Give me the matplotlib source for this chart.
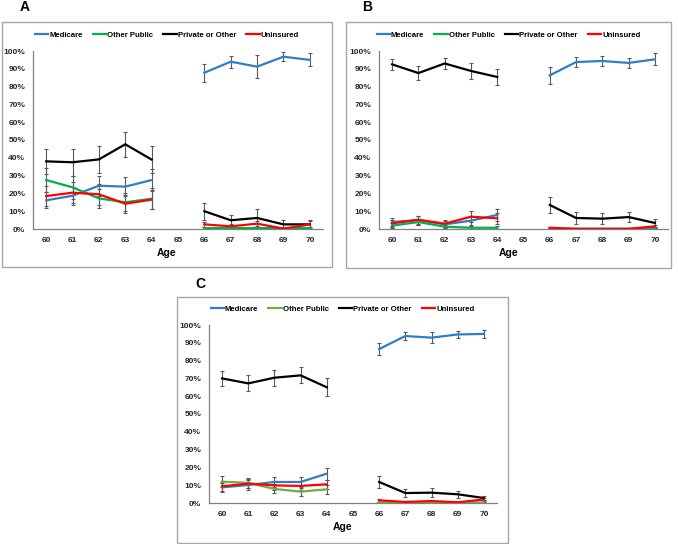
import numpy as np
import matplotlib
matplotlib.use("Agg")
import matplotlib.pyplot as plt
from matplotlib.patches import Rectangle

ages = [60, 61, 62, 63, 64, 65, 66, 67, 68, 69, 70]
series_names = ["Medicare", "Other Public", "Private or Other", "Uninsured"]
nan = np.nan

# Panel A (values in %)
A_medicare = [16.1, 18.7, 24.3, 23.8, 27.5, nan, 87.8, 94.0, 91.2, 96.8, 95.0]
A_medicare_err = [4.5, 5.0, 5.5, 5.5, 6.0, nan, 5.0, 3.4, 6.4, 2.4, 3.7]
A_other = [27.5, 23.4, 17.2, 15.0, 17.0, nan, 0.5, 0.5, 0.5, 0.5, 0.5]
A_other_err = [6.5, 6.5, 5.5, 5.0, 6.0, nan, 0.5, 0.5, 0.5, 0.5, 0.5]
A_private = [38.0, 37.5, 39.1, 47.6, 39.0, nan, 10.0, 4.9, 6.2, 2.6, 2.6]
A_private_err = [7.2, 7.5, 7.4, 7.0, 7.6, nan, 4.8, 3.0, 5.0, 2.3, 2.6]
A_unins = [18.5, 20.4, 19.5, 14.2, 16.5, nan, 2.6, 1.5, 3.0, 0.2, 2.6]
A_unins_err = [5.5, 6.0, 6.0, 5.0, 5.5, nan, 1.5, 1.2, 1.5, 0.3, 2.0]

# Panel B
B_medicare = [3.9, 5.0, 2.6, 4.7, 7.9, nan, 86.3, 93.8, 94.4, 93.3, 95.3]
B_medicare_err = [2.2, 2.5, 2.0, 2.5, 3.2, nan, 4.6, 3.0, 3.0, 3.0, 3.3]
B_other = [1.9, 3.9, 1.3, 0.7, 0.7, nan, 0.1, 0.1, 0.1, 0.1, 0.5]
B_other_err = [1.2, 1.8, 1.0, 0.8, 0.8, nan, 0.2, 0.2, 0.2, 0.2, 0.5]
B_private = [92.5, 87.6, 93.0, 88.8, 85.4, nan, 13.5, 6.2, 5.8, 6.7, 3.4]
B_private_err = [3.0, 3.7, 3.0, 4.5, 4.4, nan, 4.7, 3.4, 3.0, 3.0, 2.2]
B_unins = [3.2, 5.2, 3.0, 6.9, 6.0, nan, 0.7, 0.1, 0.1, 0.1, 1.5]
B_unins_err = [2.0, 2.2, 2.0, 3.0, 3.0, nan, 0.7, 0.2, 0.2, 0.2, 1.0]

# Panel C
C_medicare = [8.8, 10.1, 11.8, 11.8, 16.5, nan, 86.5, 93.8, 92.9, 94.7, 95.0]
C_medicare_err = [2.5, 2.6, 2.8, 3.0, 3.3, nan, 3.5, 2.5, 3.2, 2.0, 2.4]
C_other = [12.0, 11.3, 7.9, 6.4, 7.7, nan, 0.3, 0.3, 0.3, 0.3, 0.3]
C_other_err = [3.2, 3.0, 2.5, 2.2, 2.5, nan, 0.4, 0.3, 0.3, 0.3, 0.3]
C_private = [70.0, 67.2, 70.4, 71.7, 65.0, nan, 11.8, 5.6, 5.8, 4.9, 2.8]
C_private_err = [4.2, 4.5, 4.4, 4.5, 5.0, nan, 3.3, 2.3, 2.6, 2.0, 1.2]
C_unins = [9.4, 10.9, 9.9, 9.6, 10.5, nan, 1.5, 0.6, 1.1, 0.4, 2.0]
C_unins_err = [2.5, 2.6, 2.5, 2.5, 2.6, nan, 1.0, 0.5, 0.8, 0.4, 1.0]

blue = "#2E7EC6"
green_ab = "#00B050"
green_c = "#70AD47"
black = "#000000"
red = "#FF0000"
err_col = "#595959"

plt.rcParams['font.family'] = ['Liberation Sans', 'DejaVu Sans']
plt.rcParams['font.weight'] = 'bold'

fig = plt.figure(figsize=(6.78, 5.44), dpi=100)
W, H = 678.0, 544.0

def fx(px):
    return px / W

def fy(py):
    return 1 - py / H

panels = [
    dict(label="A", box=(2, 22, 332, 267), axes=(33, 51, 323, 229), lab=(25, 7),
         leg=35, age=253, green=green_ab,
         data=[(A_medicare, A_medicare_err), (A_other, A_other_err),
               (A_private, A_private_err), (A_unins, A_unins_err)]),
    dict(label="B", box=(346, 22, 671, 268), axes=(379, 51, 668, 229), lab=(367, 7),
         leg=35, age=253, green=green_ab,
         data=[(B_medicare, B_medicare_err), (B_other, B_other_err),
               (B_private, B_private_err), (B_unins, B_unins_err)]),
    dict(label="C", box=(177, 297, 508, 543), axes=(209, 325, 497, 503), lab=(200, 284),
         leg=309, age=527, green=green_c,
         data=[(C_medicare, C_medicare_err), (C_other, C_other_err),
               (C_private, C_private_err), (C_unins, C_unins_err)]),
]

for p in panels:
    x0, y0, x1, y1 = p["box"]
    fig.patches.append(Rectangle((fx(x0), fy(y1)), fx(x1 - x0), (y1 - y0) / H,
                                 transform=fig.transFigure, fill=False,
                                 edgecolor="#A6A6A6", linewidth=1.0))
    fig.text(fx(p["lab"][0]), fy(p["lab"][1]), p["label"], fontsize=10,
             fontweight='bold', ha='center', va='center')
    ax0, ay0, ax1, ay1 = p["axes"]
    ax = fig.add_axes([fx(ax0), fy(ay1), fx(ax1 - ax0), (ay1 - ay0) / H])
    colors = [blue, p["green"], black, red]
    handles = []
    x = np.array(ages)
    for (vals, errs), c, name in zip(p["data"], colors, series_names):
        v = np.array(vals) / 100.0
        e = np.array(errs) / 100.0
        ax.errorbar(x, v, yerr=e, fmt='none', ecolor=err_col, elinewidth=0.8,
                    capsize=1.6, capthick=0.8, zorder=2)
    for (vals, errs), c, name in zip(p["data"], colors, series_names):
        v = np.array(vals) / 100.0
        h, = ax.plot(x, v, color=c, lw=1.6, label=name, zorder=3)
        handles.append(h)
    ax.set_xlim(59.5, 70.5)
    ax.set_ylim(0, 1.0)
    ax.set_xticks(ages)
    ax.set_xticklabels([str(a) for a in ages], fontsize=6, fontweight='bold')
    yt = np.arange(0, 1.01, 0.1)
    ax.set_yticks(yt)
    ax.set_yticklabels([f"{int(round(t*100))}%" for t in yt], fontsize=6,
                       fontweight='bold')
    ax.tick_params(axis='both', length=0, pad=5.5, colors='#262626')
    for s in ['top', 'right']:
        ax.spines[s].set_visible(False)
    for s in ['left', 'bottom']:
        ax.spines[s].set_color('#808080')
        ax.spines[s].set_linewidth(0.9)
    ax.patch.set_alpha(0)
    fig.text((fx(x0) + fx(x1)) / 2, fy(p["age"]), "Age", fontsize=7.5,
             fontweight='bold', ha='center', va='center')
    fig.legend(handles=handles, labels=series_names, loc='center',
               bbox_to_anchor=((fx(x0) + fx(x1)) / 2, fy(p["leg"])),
               ncol=4, frameon=False, fontsize=5.6, handlelength=1.7,
               handletextpad=0.15, columnspacing=1.3, borderpad=0)

fig.savefig("out.png", dpi=100)
